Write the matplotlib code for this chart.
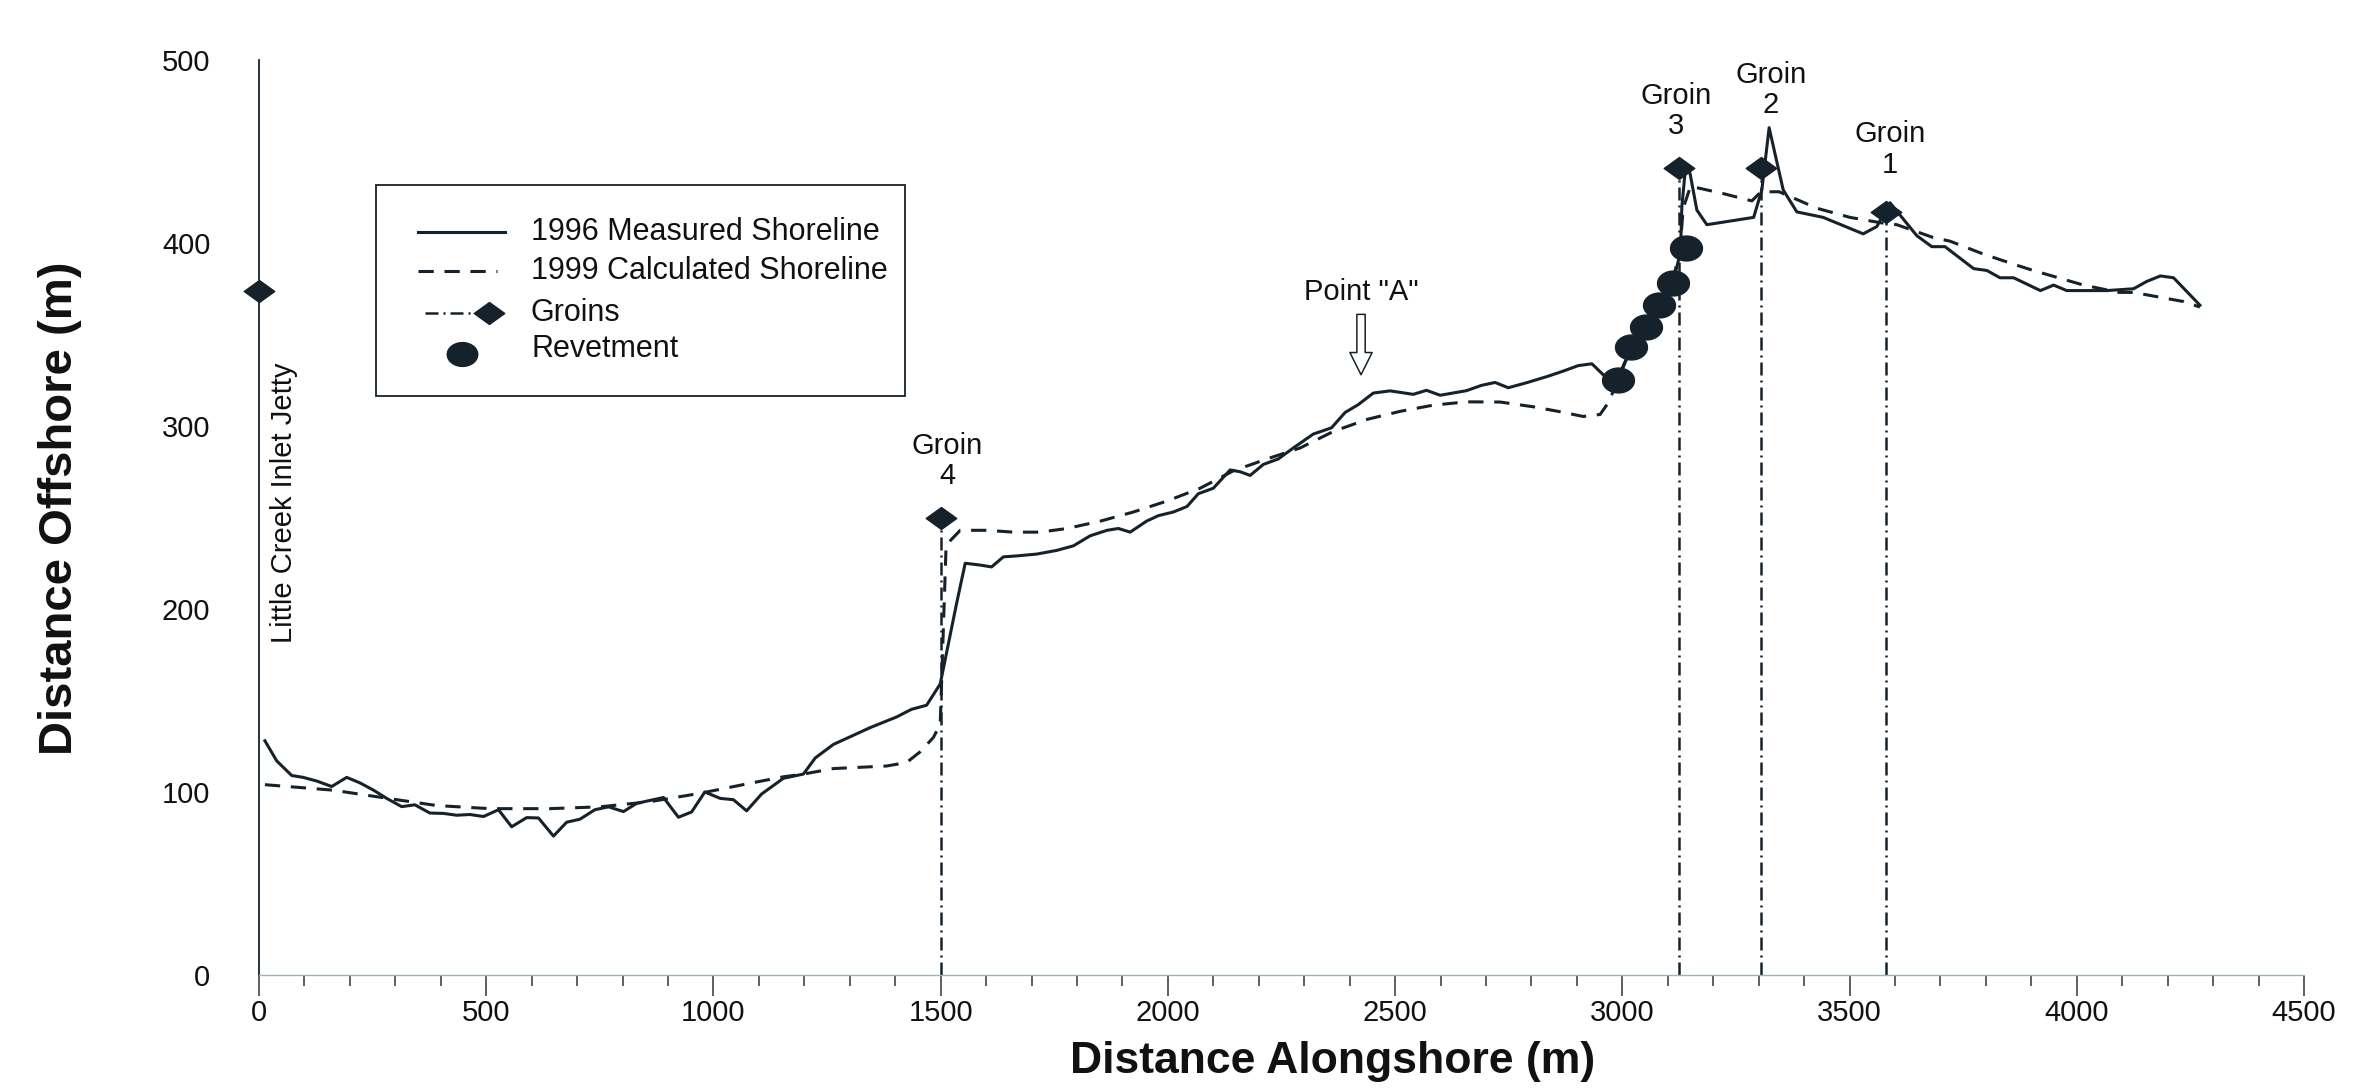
import matplotlib
matplotlib.use("Agg")
import matplotlib.pyplot as plt
from matplotlib.path import Path
from matplotlib.lines import Line2D
from matplotlib.patches import Rectangle
from matplotlib.ticker import MultipleLocator
import numpy as np

plt.rcParams['font.family'] = ['Liberation Sans', 'DejaVu Sans']

# ---------------------------------------------------------------- data
# 1996 measured shoreline (distance alongshore m, distance offshore m)
measured_x = [13, 39, 72, 97, 127, 160, 193, 222, 252, 281, 314, 343, 376, 406,
              435, 464, 494, 527, 556, 589, 615, 648, 677, 706, 739, 769, 802,
              831, 860, 890, 923, 952, 981, 1015, 1044, 1073, 1106, 1154, 1198,
              1224, 1264, 1308, 1345, 1403, 1436, 1469, 1499, 1535, 1554, 1587,
              1612, 1638, 1667, 1711, 1755, 1792, 1829, 1866, 1891, 1917, 1953,
              1979, 2012, 2042, 2067, 2100, 2137, 2159, 2181, 2210, 2243, 2276,
              2320, 2360, 2390, 2419, 2452, 2489, 2540, 2569, 2599, 2657, 2690,
              2720, 2749, 2790, 2834, 2870, 2903, 2933, 2958, 2988, 3020, 3052,
              3080, 3111, 3128, 3131, 3139, 3149, 3164, 3186, 3237, 3289, 3307,
              3323, 3354, 3384, 3442, 3530, 3560, 3589, 3648, 3681, 3710, 3773,
              3802, 3831, 3861, 3920, 3949, 3978, 4066, 4125, 4154, 4184, 4213,
              4271]
measured_y = [128, 117, 109, 108, 106, 103, 108, 105, 101, 96.5, 92, 93, 88.5,
              88.3, 87.3, 87.7, 86.6, 90.3, 81, 86, 85.8, 75.9, 83.5, 85.1,
              90.3, 91.9, 89.3, 93.8, 95.4, 97, 86.2, 89.1, 100, 96.5, 95.8,
              89.7, 98.9, 107.5, 109.8, 118.6, 126, 131, 135.2, 141, 145.2,
              147.4, 159, 203, 225, 224, 223, 228.5, 229, 230, 232, 234.5, 240,
              243, 244, 242, 248, 251, 253, 256, 263, 266, 276, 275, 273, 279,
              282, 288, 295.6, 299, 307.4, 311.7, 318, 319.2, 317.3, 319.5,
              316.8, 319.3, 322.2, 323.8, 320.9, 323.7, 327, 330, 333, 334, 328,
              325, 343, 354, 366, 378, 395, 420, 441, 438, 418, 410, 412, 414,
              429, 463, 429, 417, 414, 405, 409, 422, 404, 398, 398, 386, 385,
              381, 381, 374, 377, 374, 374, 375, 379, 382, 381, 366]

# 1999 calculated shoreline
calc_x = [13, 163, 281, 391, 508, 640, 750, 860, 971, 1081, 1154, 1198, 1264,
          1381, 1425, 1455, 1484, 1499, 1512, 1543, 1601, 1660, 1719, 1778,
          1851, 1924, 1998, 2071, 2144, 2218, 2291, 2364, 2438, 2511, 2584,
          2657, 2731, 2804, 2863, 2914, 2951, 2970, 2990, 3020, 3052, 3080,
          3111, 3128, 3134, 3150, 3222, 3285, 3305, 3345, 3428, 3501, 3570,
          3604, 3684, 3721, 3794, 3866, 3904, 4015, 4093, 4125, 4235, 4271]
calc_y = [104, 101, 96.6, 92.6, 90.9, 90.9, 91.9, 94.7, 99.3, 104.8, 108.3,
          109.8, 112.8, 114.2, 116.1, 122, 129.8, 137, 235, 243, 243, 242, 242,
          244, 248, 253, 259, 266, 275.5, 282, 288, 297, 303.6, 308, 311.4,
          313.2, 313.1, 310.5, 307.8, 305.2, 306.3, 313, 325, 343, 354, 366,
          378, 400, 419, 431, 427, 423, 428, 428, 419, 414, 411, 410, 403, 401,
          394, 388, 385, 377, 373, 373, 368, 365]

# structures
groin_x = [1500, 3125, 3305, 3580]
groin_y = [250, 441, 441, 417]
groin_labels = ["Groin\n4", "Groin\n3", "Groin\n2", "Groin\n1"]
jetty_x = [0]
jetty_y = [374]
revetment_x = [2991, 3020, 3052, 3080, 3111, 3140]
revetment_y = [325, 343, 354, 366, 378, 397]

point_a_x = 2425
point_a_label = 'Point "A"'

x_ticks = [0, 500, 1000, 1500, 2000, 2500, 3000, 3500, 4000, 4500]
y_ticks = [0, 100, 200, 300, 400, 500]

legend_labels = ["1996 Measured Shoreline", "1999 Calculated Shoreline",
                 "Groins", "Revetment"]

# ---------------------------------------------------------------- style
INK = "#16222b"
LW = 2.2
SHORE_DASH = (5, 3.5)
GROIN_DASH = (0, (5.2, 2.0, 0.8, 2.0))
FS = 21

W, H = 2361, 1088
# flattened diamond and ellipse markers
diamond = Path([(-1, 0), (0, 0.72), (1, 0), (0, -0.72), (-1, 0)],
               [Path.MOVETO, Path.LINETO, Path.LINETO, Path.LINETO, Path.CLOSEPOLY])
t = np.linspace(0, 2 * np.pi, 40)
ellipse = Path(np.column_stack([np.cos(t), 0.78 * np.sin(t)]))


def fig_xy(px, py):
    """Pixel position (from top-left) to figure fraction."""
    return px / W, 1 - py / H


fig = plt.figure(figsize=(W / 100, H / 100), dpi=100)
left, right = 259, 2304
top, bottom = 60, 975
ax = fig.add_axes([left / W, 1 - bottom / H, (right - left) / W, (bottom - top) / H])

# shorelines
ax.plot(measured_x, measured_y, color=INK, lw=LW, zorder=3)
ax.plot(calc_x, calc_y, color=INK, lw=LW, dashes=SHORE_DASH, zorder=3)

# groins: dash-dot stems down to the baseline with a diamond head
for gx, gy in zip(groin_x, groin_y):
    ax.plot([gx, gx], [0, gy], color=INK, lw=1.8, ls=GROIN_DASH, zorder=2)
ax.plot(groin_x, groin_y, ls="none", marker=diamond, ms=22, color=INK, zorder=5)
ax.plot(jetty_x, jetty_y, ls="none", marker=diamond, ms=22, color=INK,
        zorder=5, clip_on=False)

# revetment
ax.plot(revetment_x, revetment_y, ls="none", marker=ellipse, ms=23, color=INK,
        zorder=4)

# annotations
groin_offsets = [(5, 20), (-2, 20), (7, 35), (3, 24)]
for gx, gy, lab, (dx, dy) in zip(groin_x, groin_y, groin_labels, groin_offsets):
    ax.annotate(lab, xy=(gx, gy), xytext=(dx, dy), textcoords="offset points",
                ha="center", va="bottom", fontsize=FS, linespacing=1.1,
                color="#111")

ax.text(55, 258, "Little Creek Inlet Jetty", rotation=90, ha="center",
        va="center", fontsize=21, color="#111")

ax.text(point_a_x, 373, point_a_label, ha="center", va="center", fontsize=FS,
        color="#111")
ax.annotate("", xy=(point_a_x, 328), xytext=(point_a_x, 361),
            arrowprops=dict(arrowstyle="simple,head_length=0.8,head_width=0.8,tail_width=0.3",
                            fc="white", ec=INK, lw=1.1, shrinkA=0, shrinkB=0,
                            mutation_scale=20))

# axes
ax.set_xlim(0, 4500)
ax.set_ylim(0, 500)
ax.set_xticks(x_ticks)
ax.set_yticks(y_ticks)
ax.xaxis.set_minor_locator(MultipleLocator(100))
ax.tick_params(axis="x", which="major", length=15, width=1.1, color="#333",
               pad=2, labelsize=FS, labelcolor="#111")
ax.tick_params(axis="x", which="minor", length=8, width=1.1, color="#333")
ax.tick_params(axis="y", length=0, pad=35, labelsize=FS, labelcolor="#111")
for s in ("top", "right"):
    ax.spines[s].set_visible(False)
ax.spines["left"].set_color(INK)
ax.spines["left"].set_linewidth(1.3)
ax.spines["bottom"].set_color("#9fb3b6")
ax.spines["bottom"].set_linewidth(1.0)

ax.set_xlabel("Distance Alongshore (m)", fontsize=32, fontweight="bold",
              color="#111")
ax.xaxis.set_label_coords((1333 - left) / (right - left),
                          (bottom - 1062) / (bottom - top))
ax.xaxis.label.set_va("center")
ax.set_ylabel("Distance Offshore (m)", fontsize=34, fontweight="bold",
              color="#111")
ax.yaxis.set_label_coords((60 - left) / (right - left),
                          (bottom - 508) / (bottom - top))
ax.yaxis.label.set_va("center")

# legend box
x0, y0 = fig_xy(376, 396)
x1, y1 = fig_xy(905, 185)
fig.add_artist(Rectangle((x0, y0), x1 - x0, y1 - y0, transform=fig.transFigure,
                         fc="white", ec=INK, lw=1.3))
rows = [232, 271, 313, 349]
handles = [
    Line2D(*zip(fig_xy(418, rows[0]), fig_xy(505, rows[0])), color=INK, lw=LW),
    Line2D(*zip(fig_xy(418, rows[1]), fig_xy(497, rows[1])), color=INK, lw=LW,
           dashes=SHORE_DASH),
    Line2D(*zip(fig_xy(425, rows[2]), fig_xy(489, rows[2])), color=INK, lw=1.8,
           ls=GROIN_DASH),
    Line2D([fig_xy(489, rows[2])[0]], [fig_xy(489, rows[2])[1]], ls="none",
           marker=diamond, ms=22, color=INK),
    Line2D([fig_xy(462, rows[3] + 5)[0]], [fig_xy(462, rows[3] + 5)[1]],
           ls="none", marker=ellipse, ms=22, color=INK),
]
for h in handles:
    h.set_transform(fig.transFigure)
    fig.add_artist(h)
for lab, ry in zip(legend_labels, rows):
    fx, fy = fig_xy(531, ry)
    fig.text(fx, fy, lab, ha="left", va="center", fontsize=22, color="#111")

fig.savefig("out.png", dpi=100, facecolor="white")
